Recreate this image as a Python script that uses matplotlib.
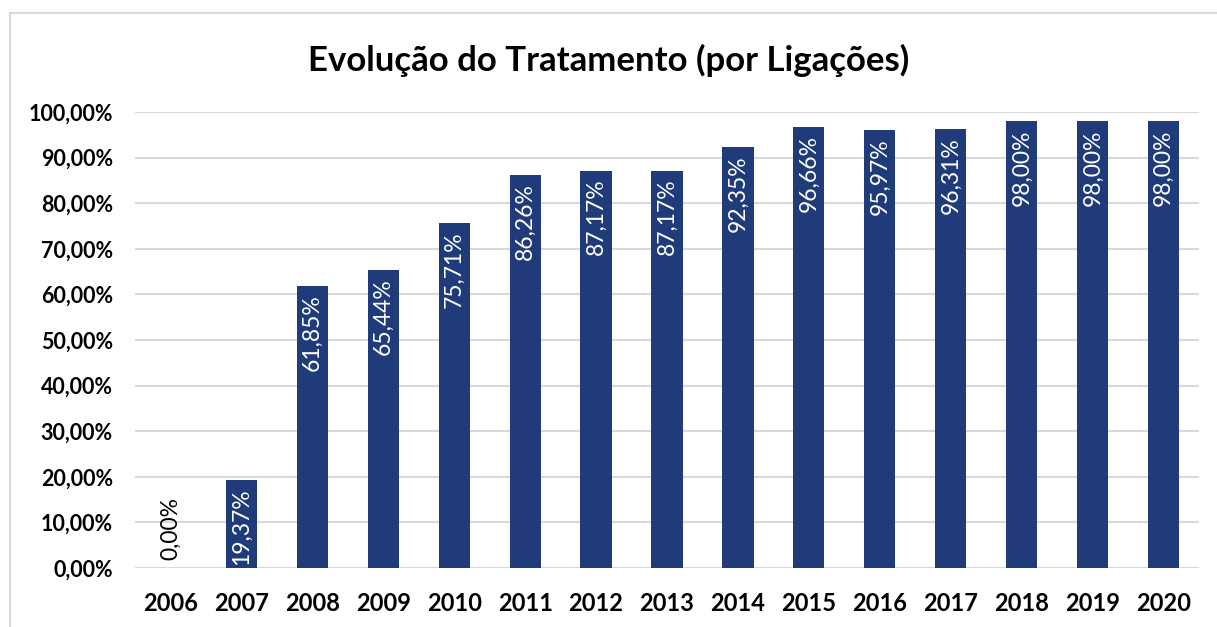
import matplotlib.pyplot as plt
from matplotlib.lines import Line2D

plt.rcParams['font.family'] = ['Lato', 'DejaVu Sans']

# data
years = ['2006', '2007', '2008', '2009', '2010', '2011', '2012', '2013',
         '2014', '2015', '2016', '2017', '2018', '2019', '2020']
values = [0.00, 19.37, 61.85, 65.44, 75.71, 86.26, 87.17, 87.17,
          92.35, 96.66, 95.97, 96.31, 98.00, 98.00, 98.00]
y_ticks = [0, 10, 20, 30, 40, 50, 60, 70, 80, 90, 100]

bar_color = '#1F3B7A'
fmt = lambda v: f'{v:.2f}'.replace('.', ',') + '%'

fig = plt.figure(figsize=(12.17, 6.27), dpi=100)
ax = fig.add_axes([135/1217, 1 - 568/627, (1199-135)/1217, (568-112)/627])

x = range(len(years))
bars = ax.bar(x, values, width=0.44, color=bar_color, zorder=3)

# value labels, rotated, inside the bar near its top
for xi, v in zip(x, values):
    if v > 5:
        ax.text(xi, v - 1.8, fmt(v), rotation=90, ha='center', va='top',
                color='white', fontsize=16.5, zorder=4)
    else:
        ax.text(xi, v + 1.8, fmt(v), rotation=90, ha='center', va='bottom',
                color='black', fontsize=16.5, zorder=4)

ax.set_xlim(-0.5, len(years) - 0.5)
ax.set_ylim(0, 100)
ax.set_yticks(y_ticks)
ax.set_yticklabels([fmt(t) for t in y_ticks], fontsize=15.5, fontweight='bold')
ax.set_xticks(list(x))
ax.set_xticklabels(years, fontsize=17, fontweight='bold')
ax.tick_params(length=0)
ax.tick_params(axis='y', pad=16)
ax.tick_params(axis='x', pad=17)
ax.grid(axis='y', color='#D9D9D9', linewidth=1.5, zorder=0)
for s in ax.spines.values():
    s.set_visible(False)

fig.text(0.5, 1 - 60/627, 'Evolução do Tratamento (por Ligações)',
         ha='center', va='center', fontsize=25, fontweight='bold')

# chart frame (only left and top edges visible)
fig.add_artist(Line2D([10/1217, 10/1217], [0, 1 - 13/627],
                      transform=fig.transFigure, color='#D9D9D9', linewidth=1.5))
fig.add_artist(Line2D([10/1217, 1], [1 - 13/627, 1 - 13/627],
                      transform=fig.transFigure, color='#D9D9D9', linewidth=1.5))

plt.savefig('out.png', dpi=100)
